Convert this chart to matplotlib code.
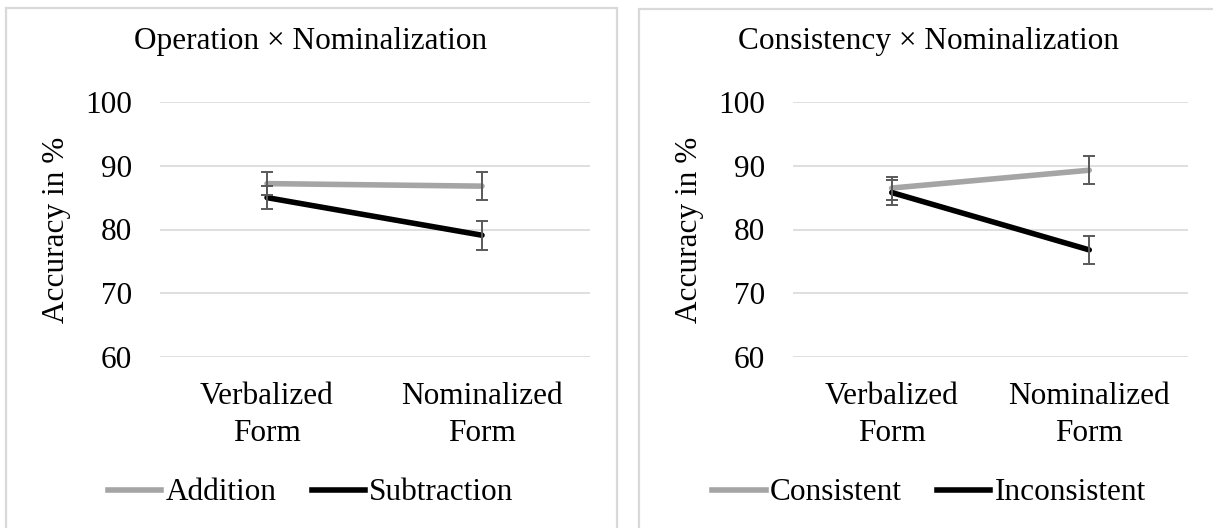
import matplotlib
matplotlib.use("Agg")
from matplotlib import pyplot as plt
from matplotlib.patches import Rectangle
from matplotlib.lines import Line2D

plt.rcParams['font.family'] = ['Liberation Serif', 'DejaVu Serif']

# data
categories = ['Verbalized\nForm', 'Nominalized\nForm']

titles = ['Operation \u00d7 Nominalization', 'Consistency \u00d7 Nominalization']
series_names = [['Addition', 'Subtraction'], ['Consistent', 'Inconsistent']]

addition = [87.2, 86.8]
addition_err = [1.8, 2.2]
subtraction = [85.0, 79.1]
subtraction_err = [1.8, 2.3]

consistent = [86.5, 89.3]
consistent_err = [1.8, 2.2]
inconsistent = [85.8, 76.8]
inconsistent_err = [1.9, 2.2]

yticks = [60, 70, 80, 90, 100]

W, H = 1213, 528
fs = 22.5
gray = '#A5A5A5'
black = '#000000'
errc = '#595959'
gridc = '#D9D9D9'

fig = plt.figure(figsize=(W / 100, H / 100), dpi=100)

# panel borders (pixel coords -> figure fraction)
for x0, x1, y0 in [(6, 617, 8), (639, 1225, 9)]:
    fig.patches.append(Rectangle((x0 / W, -0.1), (x1 - x0) / W, 1.1 - y0 / H,
                                 transform=fig.transFigure, fill=False,
                                 edgecolor=gridc, lw=1.6))

panels = [
    (159.5, 430, 311, [(addition, addition_err), (subtraction, subtraction_err)]),
    (793, 395, 929, [(consistent, consistent_err), (inconsistent, inconsistent_err)]),
]

for i, (px, pw, center, data) in enumerate(panels):
    ax = fig.add_axes([px / W, 1 - 357 / H, pw / W, (357 - 102) / H])
    x = [0, 1]
    for (vals, err), col in zip(data, [gray, black]):
        ax.plot(x, vals, color=col, lw=4.0, solid_capstyle='round', zorder=3)
        ax.errorbar(x, vals, yerr=err, fmt='none', ecolor=errc, elinewidth=1.4,
                    capsize=4.5, capthick=1.4, zorder=4)
    ax.set_xlim(-0.5, 1.5)
    ax.set_ylim(60, 100)
    ax.set_yticks(yticks)
    ax.set_xticks(x)
    ax.set_xticklabels(categories, fontsize=fs, linespacing=1.35)
    ax.tick_params(axis='y', length=0, pad=20, labelsize=fs)
    ax.tick_params(axis='x', length=0, pad=18)
    ax.grid(axis='y', color=gridc, lw=1.2)
    ax.set_axisbelow(True)
    for s in ax.spines.values():
        s.set_visible(False)
    ax.set_ylabel('Accuracy in %', fontsize=fs, labelpad=10)
    fig.text(center / W, 1 - 41 / H, titles[i], ha='center', va='center', fontsize=fs)
    handles = [Line2D([], [], color=gray, lw=4.0), Line2D([], [], color=black, lw=4.0)]
    fig.legend(handles, series_names[i], loc='center', ncol=2,
               bbox_to_anchor=(center / W, 1 - 493 / H), frameon=False,
               fontsize=fs, handlelength=1.7, handletextpad=0.15,
               columnspacing=1.1, borderpad=0)

fig.savefig('out.png', dpi=100)
